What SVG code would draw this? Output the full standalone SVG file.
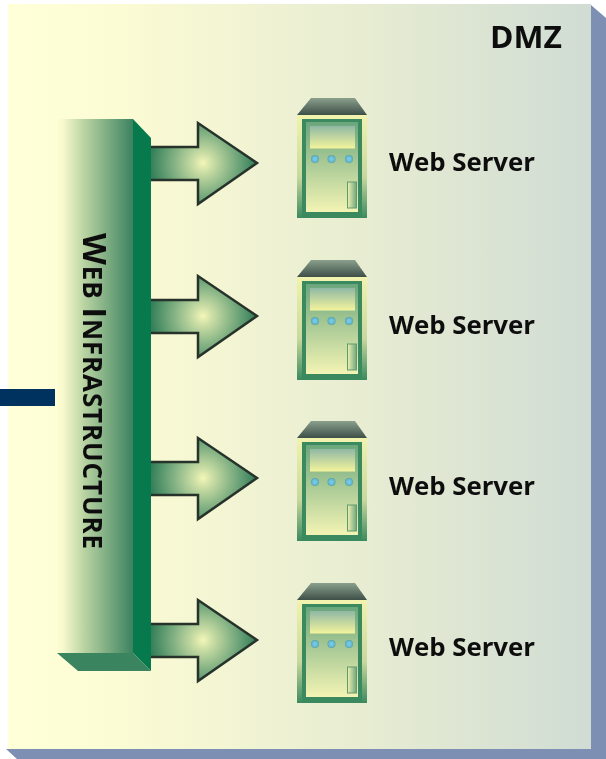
<svg xmlns="http://www.w3.org/2000/svg" xmlns:xlink="http://www.w3.org/1999/xlink" width="606" height="759" viewBox="0 0 606 759">
<style>
.lbl{font-family:"Open Sans","DejaVu Sans",sans-serif;font-weight:700;fill:#111}
.web{font-size:25px}
.arrow{fill:url(#arrowFill);stroke:#25322b;stroke-width:2.500;stroke-linejoin:miter}
.soft{filter:url(#soft)}
</style>
<defs>
<filter id="soft" x="-5%" y="-5%" width="110%" height="110%"><feGaussianBlur stdDeviation="0.5"/></filter>
<linearGradient id="panelFill" x1="0" x2="1" y1="0" y2="0"><stop offset="0" stop-color="#ffffd8"/><stop offset=".2" stop-color="#fbfbd4"/><stop offset=".6" stop-color="#e8edd2"/><stop offset="1" stop-color="#d0dcd4"/></linearGradient>
<linearGradient id="barFill" x1="0" x2="1" y1="0" y2="0"><stop offset="0" stop-color="#fbfbd0"/><stop offset=".05" stop-color="#fbfbd0"/><stop offset=".35" stop-color="#b9d3a2"/><stop offset="1" stop-color="#3c8260"/></linearGradient>
<radialGradient id="arrowFill" gradientUnits="userSpaceOnUse" cx="203" cy="163" r="52"><stop offset="0" stop-color="#f4f6b8"/><stop offset=".2" stop-color="#c8dca4"/><stop offset=".6" stop-color="#7cad80"/><stop offset="1" stop-color="#35805a"/></radialGradient>
<linearGradient id="roofFill" x1="0" x2="0" y1="0" y2="1"><stop offset="0" stop-color="#8aa08c"/><stop offset="1" stop-color="#3e4f48"/></linearGradient>
<linearGradient id="caseFill" x1="0" x2="0" y1="0" y2="1"><stop offset="0" stop-color="#f2f3ae"/><stop offset=".6" stop-color="#c8d89c"/><stop offset="1" stop-color="#3b8a5f"/></linearGradient>
<linearGradient id="faceFill" x1="0" x2="0" y1="0" y2="1"><stop offset="0" stop-color="#6aa67c"/><stop offset="1" stop-color="#f3f4b4"/></linearGradient>
<linearGradient id="screenFill" x1="0" x2="0" y1="0" y2="1"><stop offset="0" stop-color="#8fb8a4"/><stop offset="1" stop-color="#f4f49c"/></linearGradient>
<linearGradient id="slotFill" x1="0" x2="1" y1="0" y2="0"><stop offset="0" stop-color="#f0f2b0"/><stop offset="1" stop-color="#6fa67e"/></linearGradient>
<radialGradient id="ledFill"><stop offset="0" stop-color="#7fd0e8"/><stop offset=".75" stop-color="#62b8d4"/><stop offset="1" stop-color="#5a9f9a"/></radialGradient>
<g id="server">
<path d="M311 98H355L367 115H297Z" fill="url(#roofFill)"/>
<rect x="297" y="115" width="70" height="103" fill="url(#caseFill)"/>
<rect x="302" y="119" width="60" height="99" fill="#3b8a5f"/>
<rect x="306" y="122" width="52" height="90" fill="url(#faceFill)"/>
<rect x="310" y="126" width="45" height="22.500" fill="url(#screenFill)"/>
<circle cx="315" cy="159" r="4" fill="url(#ledFill)"/>
<circle cx="331.500" cy="159" r="4" fill="url(#ledFill)"/>
<circle cx="349" cy="159" r="4" fill="url(#ledFill)"/>
<rect x="347.500" y="182" width="9" height="26" fill="url(#slotFill)" stroke="#5f9a72" stroke-width="1"/>
</g>
<path id="arrowShape" class="arrow" d="M150 147H198V123L257 163L198 204V180H150"/>
</defs>
<g id="dmz">
<path d="M591 5L606 18V759H17L6 749H591Z" fill="#7d8fb3"/>
<rect x="8" y="4" width="583" height="745" fill="url(#panelFill)"/>
<text class="lbl soft" x="490" y="48" font-size="31" textLength="72" lengthAdjust="spacingAndGlyphs">DMZ</text>
</g>
<g id="connectors" class="soft">
<rect x="0" y="389" width="55" height="17" fill="#06305f"/>
<use xlink:href="#arrowShape" href="#arrowShape"/>
<use xlink:href="#arrowShape" href="#arrowShape" y="153"/>
<use xlink:href="#arrowShape" href="#arrowShape" y="315"/>
<use xlink:href="#arrowShape" href="#arrowShape" y="477"/>
</g>
<g id="web-infrastructure">
<rect x="58" y="119" width="75" height="534" fill="url(#barFill)"/>
<path d="M133 119L151 138V671L133 653Z" fill="#067a4c"/>
<path d="M57 653H133L151 671H78Z" fill="#3a8560"/>
<text class="lbl soft" transform="translate(83 233) rotate(90)" font-size="26" textLength="316" lengthAdjust="spacing"><tspan font-size="33">W</tspan>EB <tspan font-size="33">I</tspan>NFRASTRUCTURE</text>
</g>
<g id="server-1" class="soft"><use xlink:href="#server" href="#server"/><text class="lbl web" x="389" y="171" textLength="146" lengthAdjust="spacingAndGlyphs">Web Server</text></g>
<g id="server-2" class="soft"><use xlink:href="#server" href="#server" y="162"/><text class="lbl web" x="389" y="334" textLength="146" lengthAdjust="spacingAndGlyphs">Web Server</text></g>
<g id="server-3" class="soft"><use xlink:href="#server" href="#server" y="323"/><text class="lbl web" x="389" y="495" textLength="146" lengthAdjust="spacingAndGlyphs">Web Server</text></g>
<g id="server-4" class="soft"><use xlink:href="#server" href="#server" y="485"/><text class="lbl web" x="389" y="656" textLength="146" lengthAdjust="spacingAndGlyphs">Web Server</text></g>
</svg>
